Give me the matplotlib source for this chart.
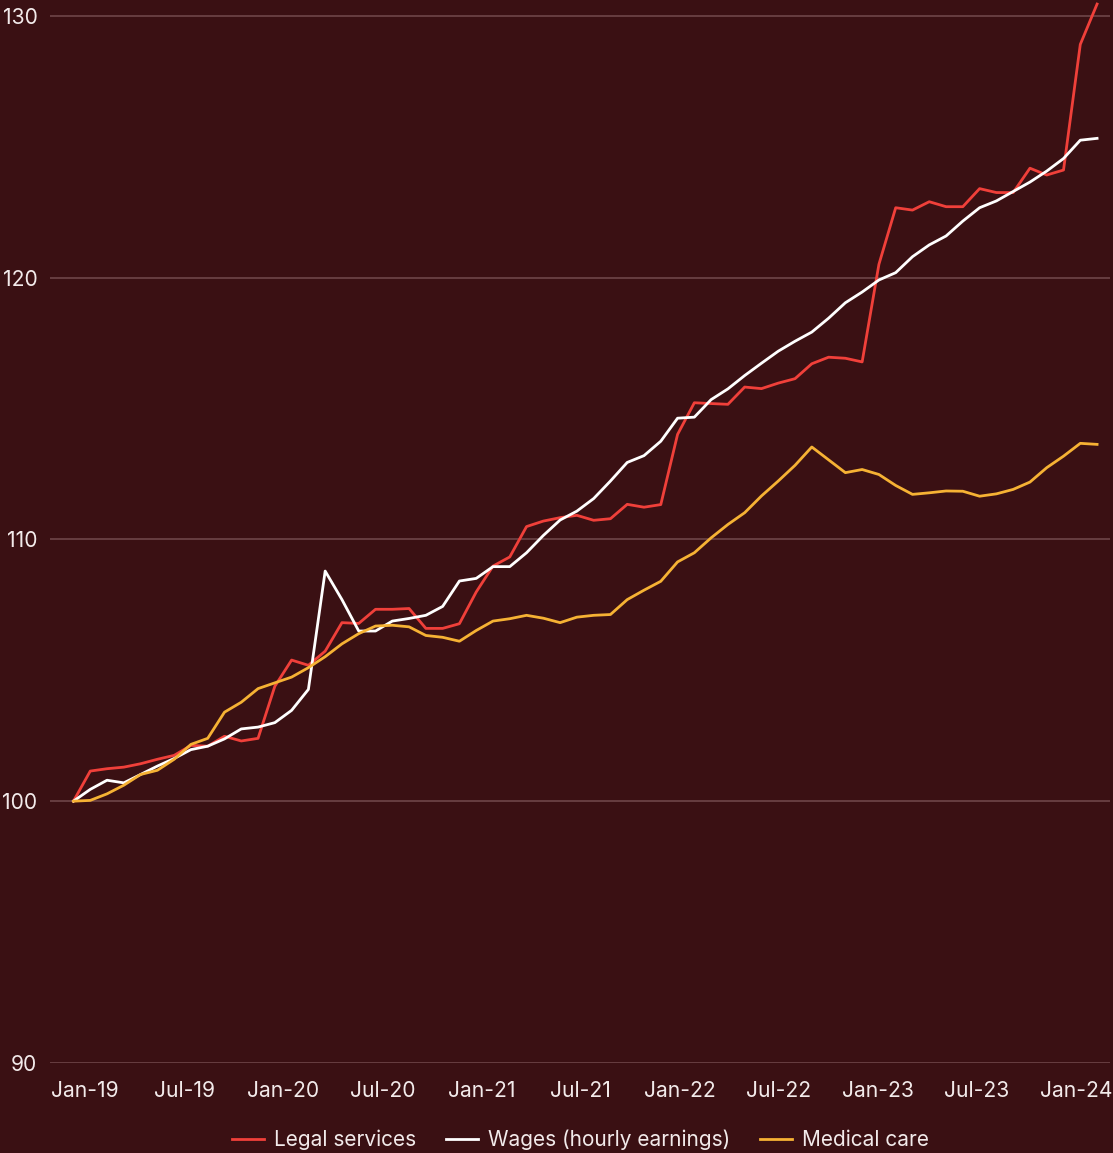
import numpy as np
import matplotlib.pyplot as plt

# monthly index values, Jan-19 = 100 (Jan-19 .. Feb-24)
months = ['Jan-19', 'Jul-19', 'Jan-20', 'Jul-20', 'Jan-21', 'Jul-21',
          'Jan-22', 'Jul-22', 'Jan-23', 'Jul-23', 'Jan-24']

legal = [100.0, 101.15, 101.24, 101.3, 101.43, 101.6, 101.75, 102.13, 102.1, 102.48,
         102.3, 102.4, 104.39, 105.39, 105.19, 105.73, 106.82, 106.79, 107.33, 107.33,
         107.36, 106.6, 106.6, 106.78, 107.99, 108.98, 109.33, 110.49, 110.7, 110.83,
         110.92, 110.73, 110.79, 111.34, 111.23, 111.33, 114.01, 115.22, 115.19, 115.16,
         115.82, 115.76, 115.97, 116.14, 116.71, 116.96, 116.92, 116.78, 120.51, 122.67,
         122.58, 122.9, 122.71, 122.71, 123.4, 123.25, 123.25, 124.18, 123.92, 124.11,
         128.91, 130.45]

wages = [100.0, 100.45, 100.8, 100.7, 101.02, 101.34, 101.63, 101.97, 102.1, 102.38,
         102.76, 102.83, 103.0, 103.47, 104.27, 108.79, 107.7, 106.5, 106.5, 106.88,
         106.98, 107.1, 107.44, 108.41, 108.51, 108.96, 108.96, 109.49, 110.15, 110.74,
         111.08, 111.56, 112.23, 112.94, 113.2, 113.75, 114.63, 114.67, 115.34, 115.75,
         116.26, 116.73, 117.19, 117.57, 117.92, 118.45, 119.04, 119.45, 119.91, 120.19,
         120.8, 121.25, 121.59, 122.16, 122.67, 122.93, 123.29, 123.65, 124.07, 124.55,
         125.25, 125.32]

medical = [100.0, 100.03, 100.28, 100.61, 101.02, 101.18, 101.6, 102.17, 102.4, 103.4,
           103.78, 104.3, 104.52, 104.74, 105.1, 105.52, 106.01, 106.4, 106.69, 106.72,
           106.66, 106.33, 106.26, 106.11, 106.52, 106.88, 106.97, 107.1, 106.99, 106.82,
           107.03, 107.1, 107.13, 107.7, 108.06, 108.4, 109.14, 109.49, 110.06, 110.57,
           111.02, 111.66, 112.23, 112.83, 113.53, 113.04, 112.55, 112.67, 112.48, 112.06,
           111.72, 111.78, 111.85, 111.84, 111.65, 111.74, 111.91, 112.19, 112.74, 113.18,
           113.67, 113.63]

bg = '#3a1013'
txt = '#f2eaea'
plt.rcParams['font.family'] = ['Inter', 'DejaVu Sans']

fig = plt.figure(figsize=(11.13, 11.53), dpi=100, facecolor=bg)
ax = fig.add_axes([0.0449, 0.0781, 0.9524, 0.922])
ax.set_facecolor(bg)

x = np.arange(len(legal))
ax.plot(x, legal, color='#f0403a', lw=2.0, label='Legal services', clip_on=False, zorder=3)
ax.plot(x, wages, color='#ffffff', lw=2.0, label='Wages (hourly earnings)', clip_on=False, zorder=3)
ax.plot(x, medical, color='#f6b234', lw=2.0, label='Medical care', clip_on=False, zorder=3)

ax.set_xlim(-1.4, 61.77)
ax.set_ylim(90, 130.61)
ax.set_yticks([90, 100, 110, 120, 130])
# month labels spread evenly across the category band
ax.set_xticks(np.linspace(0.69, 59.74, len(months)))
ax.set_xticklabels(months)
ax.grid(axis='y', color='#6e4648', lw=1.2)
ax.set_axisbelow(True)
for s in ax.spines.values():
    s.set_visible(False)
ax.tick_params(axis='both', length=0, colors=txt, labelsize=15.2)
ax.tick_params(axis='y', pad=9)
ax.tick_params(axis='x', pad=13)

ax.legend(loc='center', bbox_to_anchor=(0.5216, 13 / 1153), bbox_transform=fig.transFigure,
          ncol=3, frameon=False, fontsize=15, labelcolor=txt,
          handlelength=1.55, handletextpad=0.5, columnspacing=1.4)

fig.savefig('out.png', dpi=100, facecolor=bg)
